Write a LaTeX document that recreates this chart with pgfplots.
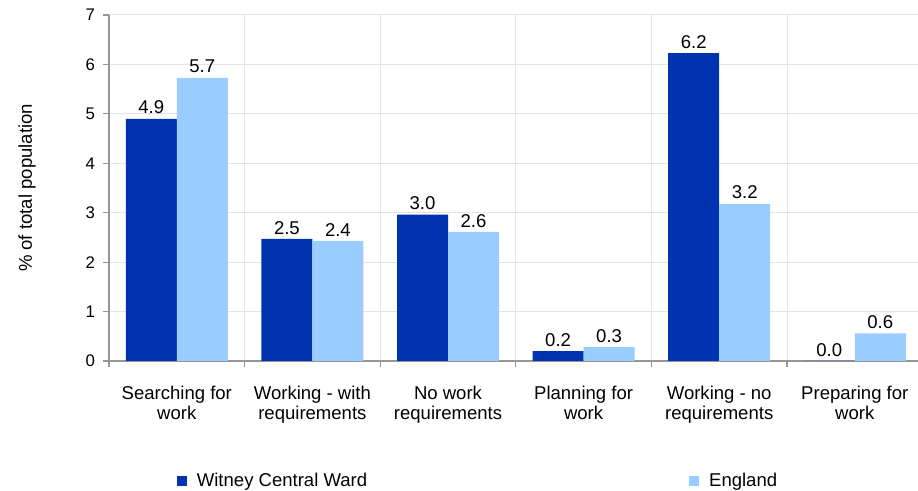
\documentclass[border=0pt]{standalone}
\usepackage{fontspec}
\setmainfont{Liberation Sans}
\usepackage{pgfplots}
\pgfplotsset{compat=1.18}
\definecolor{witney}{RGB}{0,51,176}
\definecolor{england}{RGB}{153,204,255}
\definecolor{gridgray}{RGB}{228,228,228}
\definecolor{axisgray}{RGB}{150,150,150}
\newcommand{\mainfont}{\fontsize{13.9}{15}\selectfont}

\begin{document}
\begin{tikzpicture}
\begin{axis}[
  at={(0,0)}, anchor=south west,
  scale only axis, width=606.75pt, height=259.5pt,
  ybar, bar width=38.25pt, ybar=0pt,
  xmin=-0.5, xmax=5.466, ymin=0, ymax=7,
  clip=false,
  axis x line*=bottom, axis y line*=left,
  axis line style={axisgray, line width=0.9pt},
  tick style={axisgray, line width=0.9pt},
  tick align=outside, major tick length=4.5pt,
  /pgf/number format/assume math mode=true,
  ytick={0,...,7},
  xtick={-0.5,0.5,...,5.5}, xticklabel={\relax},
  extra x ticks={0,...,5},
  extra x tick labels={{Searching for\\work},{Working - with\\requirements},{No work\\requirements},{Planning for\\work},{Working - no\\requirements},{Preparing for\\work}},
  extra x tick style={grid=none, major tick style={draw=none}},
  xmajorgrids, ymajorgrids,
  grid style={gridgray, line width=0.75pt},
  xticklabel style={font=\mainfont, align=center, yshift=-11pt},
  yticklabel style={font=\fontsize{12.6}{14}\selectfont, xshift=-2.5pt},
  ylabel={\% of total population},
  ylabel style={at={(axis description cs:-0.1014,0.5)}, anchor=center, font=\mainfont},
  nodes near coords={\pgfmathprintnumber[fixed,fixed zerofill,precision=1]{\pgfplotspointmeta}},
  every node near coord/.append style={font=\mainfont, text=black},
  legend columns=2,
  legend style={at={(axis description cs:0.084,-0.3468)}, anchor=west,
    draw=none, fill=none, inner sep=0pt, font=\mainfont,
    /tikz/every even column/.append style={column sep=239.75pt}},
  legend image code/.code={\fill[#1] (0pt,-3.75pt) rectangle (7.5pt,3.75pt);
    \path (12.75pt,0pt);},
]
\addplot[fill=witney, draw=none] coordinates {(0,4.90) (1,2.47) (2,2.96) (3,0.20) (4,6.23) (5,0.0)};
\addplot[fill=england, draw=none] coordinates {(0,5.73) (1,2.43) (2,2.61) (3,0.28) (4,3.18) (5,0.56)};
\legend{Witney Central Ward, England}
\end{axis}
\pgfresetboundingbox
\useasboundingbox (-81.75pt,-97.5pt) rectangle (606.75pt,270.75pt);
\end{tikzpicture}
\end{document}
